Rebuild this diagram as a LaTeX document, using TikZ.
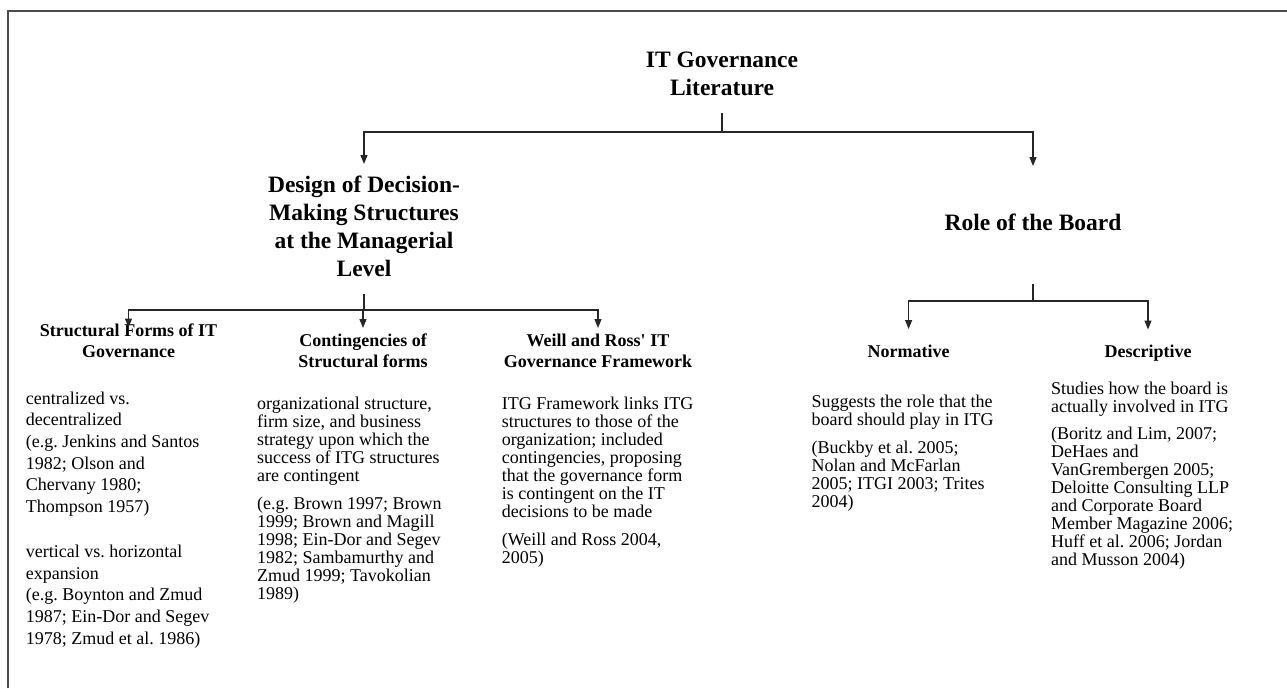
\documentclass[tikz,border=0pt]{standalone}
\usepackage{fontspec}
\setmainfont{Liberation Serif}
\usetikzlibrary{arrows.meta}
\frenchspacing
\begin{document}
\begin{tikzpicture}[x=1pt,y=-1pt,
  frame/.style={draw=black!70, line width=2pt},
  conn/.style={draw=black!85, line width=1.3pt},
  arr/.style={conn, -{Triangle[length=9pt,width=7pt]}},
  heading/.style={font=\fontsize{23.5}{28}\selectfont\bfseries, align=center, inner sep=0pt, anchor=north},
  subhead/.style={font=\fontsize{18}{21.5}\selectfont\bfseries, align=center, inner sep=0pt, anchor=north},
  body/.style={font=\fontsize{18}{18}\selectfont, align=left, inner sep=0pt, anchor=north west},
]
\useasboundingbox (0,0) rectangle (1287,688);
% outer frame (top and left edges)
\draw[frame] (7.5,688) -- (7.5,10.5) -- (1287,10.5);

% headings
\node[heading] (itg) at (722,52) {IT Governance\\Literature};
\node[heading] (design) at (364,176) {Design of Decision-\\Making Structures\\at the Managerial\\Level};
\node[heading] (role) at (1033,214) {Role of the Board};

\node[subhead] (forms) at (128.5,323.5) {Structural Forms of IT\\Governance};
\node[subhead] (cont) at (363,333.5) {Contingencies of\\Structural forms};
\node[subhead] (weill) at (598,333.5) {Weill and Ross\textquotesingle{} IT\\Governance Framework};
\node[subhead] (norm) at (908.6,344.5) {Normative};
\node[subhead] (desc) at (1148,344.5) {Descriptive};

% text columns
\node[body, font=\fontsize{18}{21.7}\selectfont] (formstxt) at (25.7,391.5) {centralized vs.\\decentralized\\(e.g. Jenkins and Santos\\1982; Olson and\\Chervany 1980;\\Thompson 1957)\\[23pt]vertical vs. horizontal\\expansion\\(e.g. Boynton and Zmud\\1987; Ein-Dor and Segev\\1978; Zmud et al. 1986)};
\node[body] (conttxt) at (257,396.5) {organizational structure,\\firm size, and business\\strategy upon which the\\success of ITG structures\\are contingent\\[10pt](e.g. Brown 1997; Brown\\1999; Brown and Magill\\1998; Ein-Dor and Segev\\1982; Sambamurthy and\\Zmud 1999; Tavokolian\\1989)};
\node[body] (weilltxt) at (501.6,396.5) {ITG Framework links ITG\\structures to those of the\\organization; included\\contingencies, proposing\\that the governance form\\is contingent on the IT\\decisions to be made\\[10.5pt](Weill and Ross 2004,\\2005)};
\node[body] (normtxt) at (811.5,394.5) {Suggests the role that the\\board should play in ITG\\[10pt](Buckby et al. 2005;\\Nolan and McFarlan\\2005; ITGI 2003; Trites\\2004)};
\node[body] (desctxt) at (1051,381.5) {Studies how the board is\\actually involved in ITG\\[9pt](Boritz and Lim, 2007;\\DeHaes and\\VanGrembergen 2005;\\Deloitte Consulting LLP\\and Corporate Board\\Member Magazine 2006;\\Huff et al. 2006; Jordan\\and Musson 2004)};

% connectors
\coordinate (j1) at (722,132);
\draw[conn, shorten <=17pt] (itg.south) -- (j1);
\draw[arr, shorten >=12pt] (j1) -| (design.north);
\draw[arr, shorten >=48pt] (j1) -| (role.north);

\coordinate (j2) at (364,310);
\draw[conn, shorten <=17pt] (design.south) -- (j2);
\draw[arr, shorten >=-4pt] (j2) -| (forms.north);
\draw[arr, shorten >=5.5pt] (j2) -| (cont.north);
\draw[arr, shorten >=5.5pt] (j2) -| (weill.north);

\coordinate (j3) at (1033,301);
\draw[conn, shorten <=53pt] (role.south) -- (j3);
\draw[arr, shorten >=15.5pt] (j3) -| (norm.north);
\draw[arr, shorten >=15pt] (j3) -| (desc.north);
\end{tikzpicture}
\end{document}
